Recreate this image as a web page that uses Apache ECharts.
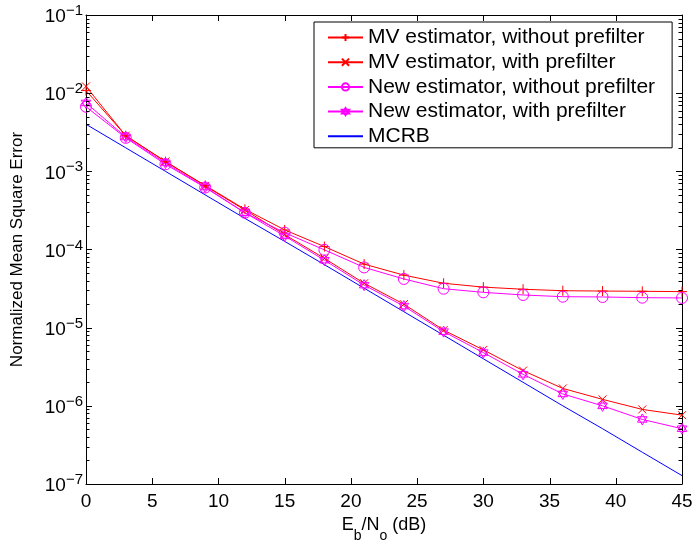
<!DOCTYPE html>
<html>
<head>
<meta charset="utf-8">
<script src="https://cdn.jsdelivr.net/npm/echarts@6/dist/echarts.min.js"></script>
<style>
  html, body { margin: 0; padding: 0; background: #fff; }
  #chart { width: 696px; height: 540px; }
</style>
</head>
<body>
<div id="chart"></div>
<script>
// Eb/No sweep (dB)
const snrDb = [0, 3, 6, 9, 12, 15, 18, 21, 24, 27, 30, 33, 36, 39, 42, 45];

// Normalized mean square error of each estimator
const mvWithout = [1.08e-2, 2.86e-3, 1.33e-3, 6.6e-4, 3.27e-4, 1.78e-4, 1.09e-4, 6.5e-5, 4.7e-5, 3.7e-5, 3.3e-5, 3.1e-5, 2.97e-5, 2.94e-5, 2.92e-5, 2.89e-5];
const mvWith = [1.22e-2, 2.86e-3, 1.34e-3, 6.5e-4, 3.2e-4, 1.55e-4, 7.7e-5, 3.7e-5, 2.0e-5, 9.3e-6, 5.2e-6, 2.82e-6, 1.67e-6, 1.21e-6, 9.0e-7, 7.6e-7];
const newWithout = [6.7e-3, 2.68e-3, 1.23e-3, 6.2e-4, 2.95e-4, 1.64e-4, 9.9e-5, 5.9e-5, 4.2e-5, 3.15e-5, 2.83e-5, 2.62e-5, 2.49e-5, 2.47e-5, 2.42e-5, 2.40e-5];
const newWith = [7.5e-3, 2.75e-3, 1.28e-3, 6.3e-4, 2.95e-4, 1.49e-4, 7.3e-5, 3.5e-5, 1.89e-5, 8.9e-6, 4.8e-6, 2.53e-6, 1.42e-6, 1.0e-6, 6.7e-7, 5.1e-7];
const mcrb = [4.0e-3, 2.0e-3, 1.0e-3, 5.0e-4, 2.5e-4, 1.27e-4, 6.4e-5, 3.2e-5, 1.6e-5, 8.0e-6, 4.0e-6, 2.0e-6, 1.0e-6, 5.1e-7, 2.55e-7, 1.28e-7];

// Axis ticks
const xTicks = [0, 5, 10, 15, 20, 25, 30, 35, 40, 45];
const yDecades = [1e-7, 1e-6, 1e-5, 1e-4, 1e-3, 1e-2, 1e-1];
const yExponents = ['−7', '−6', '−5', '−4', '−3', '−2', '−1'];

const seriesNames = [
  'MV estimator, without prefilter',
  'MV estimator, with prefilter',
  'New estimator, without prefilter',
  'New estimator, with prefilter',
  'MCRB'
];

// minor log ticks: 2..9 inside each decade
const yMinor = [];
for (let d = 0; d < yDecades.length - 1; d++) {
  for (let m = 2; m <= 9; m++) yMinor.push(yDecades[d] * m);
}

const X_MIN = 0, X_MAX = 45, Y_MIN = 1e-7, Y_MAX = 1e-1;

const pairs = (ys) => snrDb.map((x, i) => [x, ys[i]]);

const FONT = '"Liberation Sans", Arial, Helvetica, sans-serif';
const RED = '#ff0000', MAG = '#ff00ff', BLUE = '#0000ff';

const plusPath = 'path://M0,-1L0,1M-1,0L1,0';
const crossPath = 'path://M-1,-1L1,1M-1,1L1,-1';
const hexPath = 'path://M0,-1L0.866,0.5L-0.866,0.5ZM0,1L0.866,-0.5L-0.866,-0.5Z';

function lineSeries(name, ys, color, symbol, size) {
  return {
    name, type: 'line', data: pairs(ys),
    symbol, symbolSize: size, symbolKeepAspect: true,
    showSymbol: true,
    lineStyle: { color, width: 1 },
    itemStyle: { color: 'rgba(0,0,0,0)', borderColor: color, borderWidth: 1 },
    emphasis: { disabled: true },
    z: 3
  };
}

// inward ticks on all four sides of the box, placed through the axes' own scales
function renderTicks(params, api) {
  const children = [];
  const crisp = (v) => Math.round(v) + 0.5;
  const seg = (x1, y1, x2, y2) => children.push({
    type: 'line',
    shape: { x1, y1, x2, y2 },
    style: { stroke: '#000', lineWidth: 1 }
  });
  const MAJOR = 6, MINOR = 3.5;
  xTicks.forEach((v) => {
    const b = api.coord([v, Y_MIN]);
    const t = api.coord([v, Y_MAX]);
    const x = crisp(b[0]);
    seg(x, b[1], x, b[1] - MAJOR);
    seg(x, t[1], x, t[1] + MAJOR);
  });
  const yTick = (v, len) => {
    const l = api.coord([X_MIN, v]);
    const r = api.coord([X_MAX, v]);
    const y = crisp(l[1]);
    seg(l[0], y, l[0] + len, y);
    seg(r[0], y, r[0] - len, y);
  };
  yDecades.forEach((v) => yTick(v, MAJOR));
  yMinor.forEach((v) => yTick(v, MINOR));
  return { type: 'group', children };
}

const boxLine = { show: true, onZero: false, lineStyle: { color: '#000', width: 1 } };

const option = {
  animation: false,
  backgroundColor: '#fff',
  grid: { left: 86, right: 14, top: 15, bottom: 56, containLabel: false, outerBoundsMode: 'none' },
  xAxis: [
    {
      type: 'value', min: X_MIN, max: X_MAX, interval: 5, position: 'bottom',
      splitLine: { show: false }, axisLine: boxLine, axisTick: { show: false },
      axisLabel: { show: true, color: '#000', fontFamily: FONT, fontSize: 19, margin: 8 },
      name: '{n|E}{s|b}{n|/N}{s|o}{n| (dB)}',
      nameLocation: 'middle', nameGap: 15,
      nameTextStyle: {
        color: '#000', fontFamily: FONT, fontSize: 18,
        rich: {
          n: { fontFamily: FONT, fontSize: 18, color: '#000', lineHeight: 22, verticalAlign: 'top' },
          s: { fontFamily: FONT, fontSize: 14, color: '#000', lineHeight: 27, verticalAlign: 'bottom' }
        }
      }
    },
    {
      type: 'value', min: X_MIN, max: X_MAX, interval: 5, position: 'top',
      splitLine: { show: false }, axisLine: boxLine, axisTick: { show: false },
      axisLabel: { show: false }
    }
  ],
  yAxis: [
    {
      type: 'log', logBase: 10, min: Y_MIN, max: Y_MAX, position: 'left',
      splitLine: { show: false }, axisLine: boxLine, axisTick: { show: false },
      axisLabel: {
        show: true, margin: 3, customValues: yDecades,
        formatter: (v) => {
          const i = Math.round(Math.log10(v)) + 7;
          return '{b|10}{e|' + yExponents[i] + '}';
        },
        rich: {
          b: { fontFamily: FONT, fontSize: 19, color: '#000', lineHeight: 23, verticalAlign: 'bottom' },
          e: { fontFamily: FONT, fontSize: 15, color: '#000', lineHeight: 16, verticalAlign: 'top' }
        }
      },
      name: 'Normalized Mean Square Error',
      nameLocation: 'middle', nameGap: 60,
      nameTextStyle: { color: '#000', fontFamily: FONT, fontSize: 17 }
    },
    {
      type: 'log', logBase: 10, min: Y_MIN, max: Y_MAX, position: 'right',
      splitLine: { show: false }, axisLine: boxLine, axisTick: { show: false },
      axisLabel: { show: false }
    }
  ],
  legend: {
    show: true,
    orient: 'vertical',
    left: 314, top: 22,
    padding: [5, 17, 1, 13],
    itemGap: 3.7,
    itemWidth: 35, itemHeight: 9,
    itemTextGap: 19,
    backgroundColor: '#fff',
    borderColor: '#000', borderWidth: 1, borderRadius: 0,
    textStyle: { color: '#000', fontFamily: FONT, fontSize: 21, lineHeight: 20 },
    selectedMode: false,
    data: seriesNames
  },
  series: [
    lineSeries(seriesNames[0], mvWithout, RED, plusPath, 10),
    lineSeries(seriesNames[1], mvWith, RED, crossPath, 8),
    lineSeries(seriesNames[2], newWithout, MAG, 'circle', 11),
    lineSeries(seriesNames[3], newWith, MAG, hexPath, 11),
    {
      name: seriesNames[4], type: 'line', data: pairs(mcrb),
      symbol: 'circle', showSymbol: false,
      lineStyle: { color: BLUE, width: 1 },
      itemStyle: { color: 'rgba(0,0,0,0)', borderColor: 'rgba(0,0,0,0)', opacity: 0 },
      emphasis: { disabled: true },
      z: 2
    },
    {
      name: 'ticks', type: 'custom', data: [[X_MIN, Y_MAX]],
      renderItem: renderTicks, silent: true, clip: false, z: 4
    }
  ]
};

const chart = echarts.init(document.getElementById('chart'), null, { renderer: 'canvas' });
chart.setOption(option);
</script>
</body>
</html>
